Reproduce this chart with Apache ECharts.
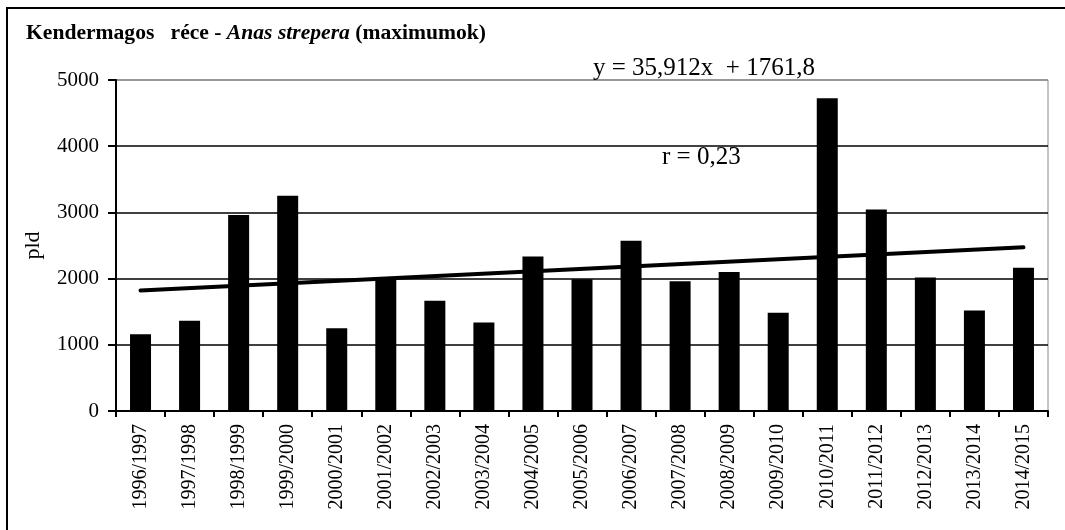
<!DOCTYPE html>
<html>
<head>
<meta charset="utf-8">
<script src="https://cdn.jsdelivr.net/npm/echarts@6/dist/echarts.min.js"></script>
<style>
  html, body { margin: 0; padding: 0; background: #fff; }
  #main { width: 1065px; height: 530px; }
</style>
</head>
<body>
<div id="main"></div>
<script>
var seasons = ['1996/1997', '1997/1998', '1998/1999', '1999/2000', '2000/2001', '2001/2002',
    '2002/2003', '2003/2004', '2004/2005', '2005/2006', '2006/2007', '2007/2008', '2008/2009',
    '2009/2010', '2010/2011', '2011/2012', '2012/2013', '2013/2014', '2014/2015'];
var maxCounts = [1160, 1365, 2960, 3250, 1250, 2000, 1665, 1335, 2335, 1990, 2570, 1960, 2100,
    1485, 4725, 3045, 2015, 1520, 2165];
// trend line ends
var trendEnds = [1822, 2472];
var yTicks = [0, 1000, 2000, 3000, 4000, 5000];

var serif = '"Liberation Serif", "Times New Roman", serif';
var myChart = echarts.init(document.getElementById('main'));

var option = {
    backgroundColor: '#fff',
    animation: false,
    title: {
        left: 21,
        top: 17,
        text: '{b|Kendermagos   réce - }{i|Anas strepera}{b| (maximumok)}',
        textStyle: {
            rich: {
                b: { fontFamily: serif, fontSize: 21.6, fontWeight: 'bold', color: '#000' },
                i: { fontFamily: serif, fontSize: 21.6, fontWeight: 'bold', fontStyle: 'italic', color: '#000' }
            }
        }
    },
    grid: {
        left: 116,
        right: 17,
        top: 80,
        bottom: 119,
        show: true,
        borderColor: '#888',
        borderWidth: 1
    },
    xAxis: {
        type: 'category',
        data: seasons,
        boundaryGap: true,
        axisLine: { lineStyle: { color: '#000', width: 2 } },
        axisTick: { show: true, length: 6, inside: false, lineStyle: { color: '#000', width: 2 } },
        axisLabel: {
            interval: 0,
            rotate: 90,
            margin: 13,
            fontFamily: serif,
            fontSize: 20,
            color: '#000'
        },
        splitLine: { show: false }
    },
    yAxis: {
        type: 'value',
        min: yTicks[0],
        max: yTicks[yTicks.length - 1],
        interval: 1000,
        name: 'pld',
        nameLocation: 'middle',
        nameGap: 72,
        nameRotate: 90,
        nameTextStyle: { fontFamily: serif, fontSize: 22, color: '#000' },
        axisLine: { show: true, lineStyle: { color: '#000', width: 2 } },
        axisTick: { show: true, length: 8, lineStyle: { color: '#000', width: 2 } },
        axisLabel: {
            fontFamily: serif,
            fontSize: 21,
            color: '#000',
            margin: 17,
            formatter: function (v) { return String(v); }
        },
        splitLine: {
            show: true,
            lineStyle: { color: ['#000', '#000', '#000', '#000', '#000', '#888'], width: 1.5 }
        }
    },
    series: [
        {
            name: 'maximum',
            type: 'bar',
            barWidth: 21,
            itemStyle: { color: '#000' },
            data: maxCounts
        },
        {
            name: 'trend',
            type: 'line',
            symbol: 'none',
            lineStyle: { color: '#000', width: 4, cap: 'round' },
            data: [[seasons[0], trendEnds[0]], [seasons[seasons.length - 1], trendEnds[1]]]
        }
    ],
    graphic: [
        {
            type: 'rect',
            shape: { x: 7, y: 8, width: 1070, height: 540 },
            style: { fill: 'none', stroke: '#000', lineWidth: 2 },
            silent: true
        },
        {
            type: 'text',
            left: 593,
            top: 56,
            z: 10,
            style: { text: 'y = 35,912x  + 1761,8', fontFamily: serif, fontSize: 25, fill: '#000' }
        },
        {
            type: 'text',
            left: 662,
            top: 145,
            z: 10,
            style: { text: 'r = 0,23', fontFamily: serif, fontSize: 25, fill: '#000' }
        }
    ]
};

if (option && typeof option === "object") {
    myChart.setOption(option, true);
}
</script>
</body>
</html>
